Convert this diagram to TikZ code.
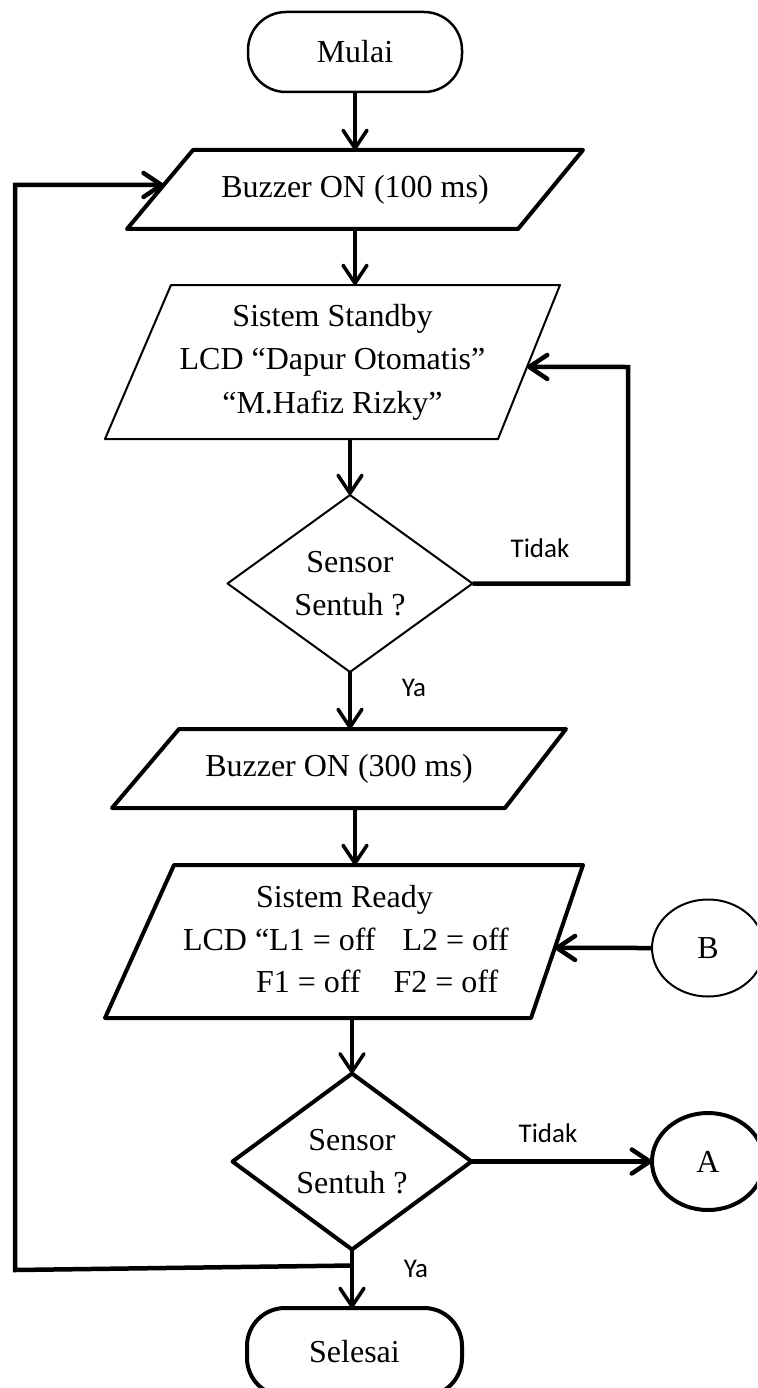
\documentclass[tikz,border=0pt]{standalone}
\usepackage{fontspec}
\setmainfont{Liberation Serif}
\newfontfamily\lblfont{Carlito}
\usetikzlibrary{arrows.meta,calc,shapes.geometric}
\begin{document}
\begin{tikzpicture}[x=1pt,y=-1pt,
  every node/.style={inner sep=0pt, outer sep=0pt},
  txt/.style={font=\fontsize{32}{43.5}\selectfont, align=center},
  box/.style={rectangle, draw=none, txt},
  lbl/.style={font=\lblfont\fontsize{27}{30}\selectfont},
  thinshape/.style={draw=black, line width=2pt, line join=round},
  thickshape/.style={draw=black, line width=4pt, line join=round},
  tip/.style={-{Straight Barb[length=18pt,width=24pt,round]}},
  arr/.style={line width=3.5pt, tip},
  arrthick/.style={line width=4.5pt, tip},
  term/.style={rectangle, rounded corners=38pt, txt},
  conn/.style={ellipse, minimum width=112pt, minimum height=97pt, txt},
]
\useasboundingbox (0,0) rectangle (757,1388);
\clip (0,0) rectangle (757,1388);

% terminals
\node[term, draw, line width=2.5pt, minimum width=214pt, minimum height=80pt] (mulai) at (355,52) {Mulai};
\node[term, draw, line width=4pt, minimum width=215pt, minimum height=88pt] (sel) at (354.5,1352) {Selesai};

% Buzzer ON (100 ms)
\node[box, minimum width=456pt, minimum height=79pt] (b1) at (355,189.5) {Buzzer ON (100 ms)};
\draw[thickshape] ([xshift=66pt]b1.north west) -- (b1.north east) -- ([xshift=-65pt]b1.south east) -- (b1.south west) -- cycle;

% Sistem Standby
\node[box, minimum width=455pt, minimum height=154pt] (sb) at (332.5,362) {Sistem Standby\\LCD “Dapur Otomatis”\\“M.Hafiz Rizky”};
\draw[thinshape] ([xshift=66pt]sb.north west) -- (sb.north east) -- ([xshift=-62pt]sb.south east) -- (sb.south west) -- cycle;

% decision 1
\node[box, minimum width=245pt, minimum height=177pt] (d1) at (350,583.5) {Sensor\\Sentuh ?};
\draw[thinshape] (d1.north) -- (d1.east) -- (d1.south) -- (d1.west) -- cycle;

% Buzzer ON (300 ms)
\node[box, minimum width=454pt, minimum height=79pt] (b3) at (339,768.5) {Buzzer ON (300 ms)};
\draw[thickshape] ([xshift=67pt]b3.north west) -- (b3.north east) -- ([xshift=-61pt]b3.south east) -- (b3.south west) -- cycle;

% Sistem Ready
\node[box, minimum width=478pt, minimum height=153pt] (rd) at (344,941.5) {};
\draw[thickshape] ([xshift=69pt]rd.north west) -- (rd.north east) -- ([xshift=-52pt]rd.south east) -- (rd.south west) -- cycle;
\node[txt, anchor=base west] (rd1) at (256,907) {Sistem Ready};
\node[txt, anchor=base west] (rd2) at (183,950) {LCD “L1 = off\hspace{27pt}L2 = off};
\node[txt, anchor=base west] (rd3) at (256,992) {F1 = off\hspace{33pt}F2 = off};

% decision 2
\node[box, minimum width=239pt, minimum height=176pt] (d2) at (352,1161.5) {Sensor\\Sentuh ?};
\draw[thickshape] (d2.north) -- (d2.east) -- (d2.south) -- (d2.west) -- cycle;

% connectors A, B
\node[conn, draw, line width=4pt] (A) at (708,1161.5) {A};
\node[conn, draw, line width=2pt] (B) at (708,948) {B};

% vertical flow
\coordinate (col) at (355,0);
\draw[arr] (mulai.south) -- (mulai.south |- b1.north);
\draw[arr] (b1.south) -- (b1.south |- sb.north);
\draw[arr] (sb.south -| d1.north) -- (d1.north);
\draw[arr] (d1.south) -- (d1.south |- b3.north);
\draw[arr] (col |- b3.south) -- (col |- rd.north);
\draw[arr] (rd.south -| d2.north) -- (d2.north);
\draw[arr] (d2.south) -- (d2.south |- sel.north);

% Tidak loop to standby
\coordinate (sbR) at ($(sb.north east)!0.532!([xshift=-62pt]sb.south east)$);
\coordinate (tk) at (628,367);
\draw[arrthick] (d1.east) -| (tk) -- (sbR);

% B to ready
\coordinate (rdR) at ($(rd.north east)!0.542!([xshift=-52pt]rd.south east)$);
\draw[arrthick] (B.west) -- (rdR);

% to A
\draw[arrthick] (d2.east) -- (A.west);

% big loop back
\coordinate (j) at ($(d2.south)+(0,16)$);
\coordinate (lc) at (15,1270);
\coordinate (b1L) at ($(b1.south west)!0.557!([xshift=66pt]b1.north west)$);
\draw[arrthick] (j) -- (lc) |- (b1L);

% labels
\node[lbl] (t1) at (540,548) {Tidak};
\node[lbl] (y1) at (414,688) {Ya};
\node[lbl] (t2) at (548,1133) {Tidak};
\node[lbl] (y2) at (416,1269) {Ya};
\end{tikzpicture}
\end{document}
